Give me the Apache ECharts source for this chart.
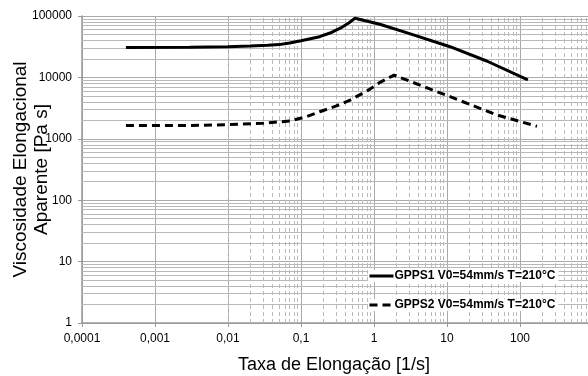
<!DOCTYPE html>
<html>
<head>
<meta charset="utf-8">
<script src="https://cdn.jsdelivr.net/npm/echarts@6/dist/echarts.min.js"></script>
<style>
  html, body { margin: 0; padding: 0; background: #fff; }
  #main { width: 588px; height: 376px; }
</style>
</head>
<body>
<div id="main"></div>
<script>
// [taxa 1/s, viscosidade Pa s]
const gpps1 = [
  [0.0004, 30800], [0.003, 31000], [0.01, 31600], [0.02, 32400], [0.035, 33300],
  [0.05, 34200], [0.07, 36300], [0.1, 39600], [0.18, 46000], [0.25, 52800],
  [0.35, 64000], [0.45, 77000], [0.55, 92000], [1.2, 73300], [3, 52000],
  [11, 31600], [35, 18500], [128, 9100]
]
const gpps2 = [
  [0.0004, 1650], [0.003, 1650], [0.01, 1700], [0.03, 1790], [0.071, 1950],
  [0.12, 2300], [0.18, 2760], [0.3, 3400], [0.47, 4270], [0.8, 6000],
  [1.21, 8300], [1.88, 10900], [11, 4850], [48, 2450], [171, 1600]
]
const seriesNames = ['GPPS1 V0=54mm/s T=210°C', 'GPPS2 V0=54mm/s T=210°C']
const xDecades = [-4, -3, -2, -1, 0, 1, 2]
const yDecades = [0, 1, 2, 3, 4]

const minorX = []
xDecades.forEach(d => { for (let m = 2; m <= 9; m++) minorX.push({ xAxis: +(m * Math.pow(10, d)).toPrecision(2) }) })
const minorY = []
yDecades.forEach(d => { for (let m = 2; m <= 9; m++) minorY.push({ yAxis: m * Math.pow(10, d) }) })

const fmt = v => {
  const n = +(+v).toPrecision(1)
  if (n >= 1000) return ''
  return String(n).replace('.', ',')
}

// one legend per row so each gets its own white strip, lines stay visible between rows
const legendBox = (name, top) => ({
  orient: 'vertical',
  left: 368, top: top, z: 20,
  padding: [0, 3, 0, 0],
  backgroundColor: '#fff',
  itemWidth: 24, itemHeight: 12,
  itemStyle: { color: 'rgba(0,0,0,0)', borderColor: 'rgba(0,0,0,0)', borderWidth: 0 },
  lineStyle: { width: 3 },
  textStyle: { fontSize: 12, fontWeight: 'bold', color: '#000', padding: [0, 0, 0, -4] },
  data: [name]
})

const chart = echarts.init(document.getElementById('main'))
chart.setOption({
  animation: false,
  textStyle: { fontFamily: 'Liberation Sans, Arial, sans-serif' },
  grid: { left: 82, top: 16, width: 511, height: 307, outerBoundsMode: 'none', containLabel: false },
  legend: [legendBox(seriesNames[0], 270), legendBox(seriesNames[1], 299)],
  xAxis: {
    type: 'log', logBase: 10, min: 0.0001, max: 1000, interval: 1,
    name: 'Taxa de Elongação [1/s]', nameLocation: 'middle', nameGap: 33,
    nameTextStyle: { fontSize: 18, color: '#000', padding: [0, 7, 0, 0] },
    axisLine: { lineStyle: { color: '#999', width: 1.5 } },
    axisTick: { show: true, length: 4, lineStyle: { color: '#999' } },
    axisLabel: { fontSize: 12, color: '#000', margin: 10, formatter: fmt },
    splitLine: { show: true, lineStyle: { color: '#aaa', width: 1 } }
  },
  yAxis: {
    type: 'log', logBase: 10, min: 1, max: 100000, interval: 1,
    name: 'Viscosidade Elongacional\nAparente [Pa s]', nameLocation: 'middle', nameGap: 30,
    nameMoveOverlap: false,
    nameTextStyle: { fontSize: 19, color: '#000', lineHeight: 21 },
    axisLine: { lineStyle: { color: '#999', width: 1.5 } },
    axisTick: { show: true, length: 4, lineStyle: { color: '#999' } },
    axisLabel: { fontSize: 12, color: '#000', margin: 10, formatter: v => String(Math.round(v)) },
    splitLine: { show: true, lineStyle: { color: '#aaa', width: 1 } }
  },
  series: [
    {
      type: 'line', data: [], silent: true, z: 1,
      markLine: {
        silent: true, symbol: 'none', label: { show: false }, animation: false,
        lineStyle: { color: '#bbb', width: 1, type: [4, 3] },
        data: minorX
      }
    },
    {
      type: 'line', data: [], silent: true, z: 1,
      markLine: {
        silent: true, symbol: 'none', label: { show: false }, animation: false,
        lineStyle: { color: '#b8b8b8', width: 1, type: 'solid' },
        data: minorY
      }
    },
    {
      name: seriesNames[0], type: 'line', data: gpps1, showSymbol: false, symbol: 'none', z: 5,
      lineStyle: { color: '#000', width: 3 }, itemStyle: { color: '#000' }
    },
    {
      name: seriesNames[1], type: 'line', data: gpps2, showSymbol: false, symbol: 'none', z: 5,
      lineStyle: { color: '#000', width: 3, type: [8, 5] }, itemStyle: { color: '#000' }
    }
  ]
})
</script>
</body>
</html>
